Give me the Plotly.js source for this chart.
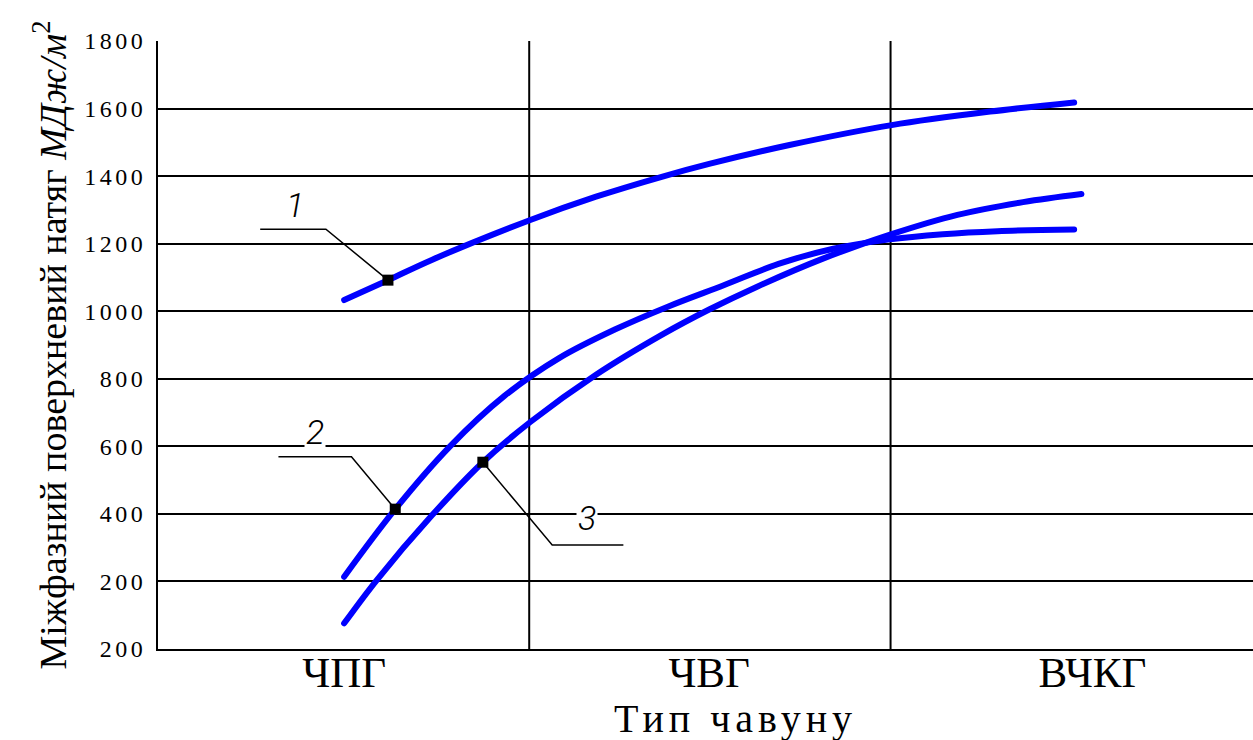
<!DOCTYPE html>
<html><head><meta charset="utf-8">
<script src="https://cdn.plot.ly/plotly-3.0.1.min.js"></script>
<style>
html,body{margin:0;padding:0;background:#fff;overflow:hidden}
#chart{width:1253px;height:740px}
.scatterlayer .js-line{stroke-linecap:round}
</style>
</head><body><div id="chart"></div>
<script>
// ---- data ----
const categories = ['ЧПГ', 'ЧВГ', 'ВЧКГ'];
const yTickValues = [0, 200, 400, 600, 800, 1000, 1200, 1400, 1600, 1800];
const yTickLabels = ['200', '200', '400', '600', '800', '1000', '1200', '1400', '1600', '1800'];

const curve1X = [0.01, 0.13, 0.25, 0.52, 0.70, 0.88, 1.01, 1.23, 1.51, 1.78, 2.01];
const curve1Y = [1033, 1092, 1152, 1270, 1339, 1398, 1436, 1492, 1551, 1591, 1618];

const curve2X = [0.01, 0.15, 0.30, 0.45, 0.60, 0.75, 0.90, 1.05, 1.20, 1.35, 1.50, 1.65, 1.80, 2.01];
const curve2Y = [214, 414, 600, 750, 862, 945, 1015, 1077, 1140, 1185, 1212, 1228, 1237, 1242];

const curve3X = [0.01, 0.10, 0.25, 0.39, 0.52, 0.70, 0.88, 1.01, 1.14, 1.32, 1.51, 1.69, 1.87, 2.03];
const curve3Y = [76, 205, 395, 553, 672, 812, 930, 1005, 1072, 1155, 1228, 1285, 1323, 1347];

const curveLabels = ['1', '2', '3'];
const markerIndex = [1, 1, 3];

// ---- traces ----
const curvesX = [curve1X, curve2X, curve3X];
const curvesY = [curve1Y, curve2Y, curve3Y];
const traces = curvesX.map((xs, i) => ({
  type: 'scatter', mode: 'lines', x: xs, y: curvesY[i], name: curveLabels[i],
  line: {color: '#0000ff', width: 6, shape: 'spline', smoothing: 1},
  hoverinfo: 'skip'
}));
traces.push({
  type: 'scatter', mode: 'markers',
  x: markerIndex.map((k, i) => curvesX[i][k]),
  y: markerIndex.map((k, i) => curvesY[i][k]),
  marker: {symbol: 'square', size: 11, color: '#000'},
  hoverinfo: 'skip'
});

const mk = i => [curvesX[i][markerIndex[i]], curvesY[i][markerIndex[i]]];
const m1 = mk(0), m2 = mk(1), m3 = mk(2);
const lead = d => ({type: 'path', xref: 'x', yref: 'y', path: d, line: {color: '#000', width: 1.5}});
const vgrid = x => ({type: 'line', xref: 'x', yref: 'paper', x0: x, x1: x, y0: 0, y1: 1,
  layer: 'below', line: {color: '#000', width: 2}});

const labelFont = {family: 'Roboto, DejaVu Sans, sans-serif', size: 34, style: 'italic', weight: 300, color: '#000'};
const numLabel = (t, x, y) => ({text: t, x: x, y: y, xref: 'x', yref: 'y', showarrow: false,
  xanchor: 'center', yanchor: 'middle', font: labelFont, bgcolor: '#fff', borderpad: 1});

const layout = {
  width: 1253, height: 740,
  margin: {l: 158, r: 0, t: 41, b: 91},
  paper_bgcolor: '#fff', plot_bgcolor: '#fff',
  showlegend: false,
  font: {family: 'Liberation Serif, Times New Roman, serif', color: '#000'},
  xaxis: {
    range: [-0.5, 2.5], tickmode: 'array', tickvals: [0.01, 1.01, 2.06], ticktext: categories,
    showgrid: false, zeroline: false, showline: true, mirror: false, linecolor: '#000', linewidth: 2,
    ticks: '', tickfont: {size: 43}, ticklabelstandoff: -16
  },
  yaxis: {
    range: [0, 1800], tickmode: 'array', tickvals: yTickValues,
    ticktext: yTickLabels.map(t => '<span style="letter-spacing:3.5px">' + t + '</span>'),
    showgrid: true, gridcolor: '#000', gridwidth: 2, zeroline: false,
    showline: true, linecolor: '#000', linewidth: 2, ticks: '', tickfont: {size: 24}, ticklabelstandoff: 5,
    title: {text: 'Міжфазний поверхневий натяг <i>МДж/м</i><sup>2</sup>', font: {size: 38}, standoff: 6}
  },
  shapes: [
    vgrid(0.517), vgrid(1.507),
    lead(`M -0.22,1243 L -0.04,1243 L ${m1[0]},${m1[1]}`),
    lead(`M -0.17,569 L 0.03,569 L ${m2[0]},${m2[1]}`),
    lead(`M ${m3[0]},${m3[1]} L 0.58,308 L 0.775,308`)
  ],
  annotations: [
    numLabel(curveLabels[0], -0.125, 1314),
    numLabel(curveLabels[1], -0.07, 643),
    numLabel(curveLabels[2], 0.675, 387),
    {text: '<span style="letter-spacing:5px">Тип чавуну</span>', xref: 'paper', yref: 'paper',
      x: 0.527, y: -0.115, xanchor: 'center', yanchor: 'middle', showarrow: false, font: {size: 40}}
  ]
};

Plotly.newPlot('chart', traces, layout, {displayModeBar: false, staticPlot: true});
</script>
</body></html>
